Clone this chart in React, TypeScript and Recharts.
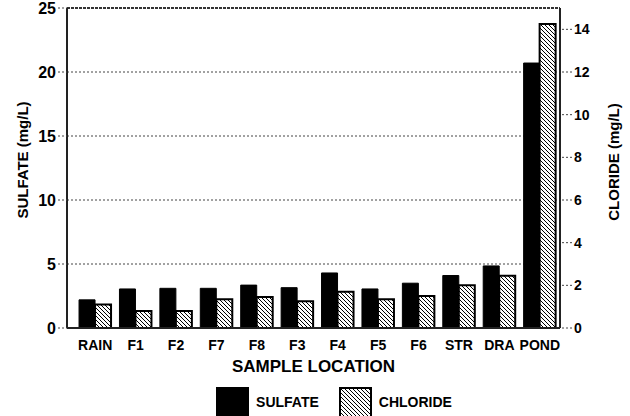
import { Bar, BarChart, CartesianGrid, Legend, ReferenceLine, XAxis, YAxis } from 'recharts';

const locations = ['RAIN', 'F1', 'F2', 'F7', 'F8', 'F3', 'F4', 'F5', 'F6', 'STR', 'DRA', 'POND'];
const sulfate = [2.2, 3.05, 3.1, 3.1, 3.35, 3.15, 4.3, 3.05, 3.5, 4.1, 4.85, 20.7];
const chloride = [1.1, 0.8, 0.8, 1.35, 1.45, 1.25, 1.7, 1.35, 1.5, 2.0, 2.45, 14.25];
const sulfateTicks = [0, 5, 10, 15, 20, 25];
const chlorideTicks = [0, 2, 4, 6, 8, 10, 12, 14];

const data = locations.map((name, i) => ({ name, sulfate: sulfate[i], chloride: chloride[i] }));

const font = '"Liberation Sans", Arial, sans-serif';

function Hatch({ id }: { id: string }) {
  return (
    <pattern id={id} patternUnits="userSpaceOnUse" width={4} height={4}>
      <rect width={4} height={4} fill="#fff" />
      <path d="M-1,-1 L5,5 M-1,3 L1,5 M3,-1 L5,1" stroke="#000" strokeWidth={1} />
    </pattern>
  );
}

function LegendContent() {
  const item = (label: string, hatched: boolean) => (
    <div style={{ display: 'flex', alignItems: 'flex-start', marginRight: 20 }}>
      <svg width={33} height={31} style={{ display: 'block' }}>
        <defs>
          <Hatch id="hatchLegend" />
        </defs>
        <rect
          x={1}
          y={1}
          width={31}
          height={30}
          fill={hatched ? 'url(#hatchLegend)' : '#000'}
          stroke="#000"
          strokeWidth={2}
        />
      </svg>
      <span style={{ marginLeft: 7, marginTop: 7, fontSize: 14, fontWeight: 'bold' }}>{label}</span>
    </div>
  );
  return (
    <div
      style={{
        display: 'flex',
        justifyContent: 'center',
        paddingTop: 19,
        marginLeft: 58,
        fontFamily: font,
        color: '#000',
      }}
    >
      {item('SULFATE', false)}
      {item('CHLORIDE', true)}
    </div>
  );
}

function App() {
  return (
    <div style={{ position: 'absolute', left: 0, top: 0, background: '#fff' }}>
      <BarChart
        width={630}
        height={416}
        data={data}
        margin={{ top: 8, right: 0, left: 0, bottom: 0 }}
        barCategoryGap="10%"
        barGap={0}
        style={{ fontFamily: font }}
      >
        <defs>
          <Hatch id="hatchBar" />
        </defs>
        <CartesianGrid yAxisId="left" vertical={false} stroke="#444" strokeDasharray="2 2" />
        <XAxis
          dataKey="name"
          height={40}
          padding={{ left: 8, right: 0 }}
          tickLine={false}
          axisLine={{ stroke: '#222', strokeWidth: 2 }}
          tick={{ fontSize: 14, fontWeight: 'bold', fill: '#000' }}
          tickMargin={6}
          interval={0}
          label={{
            value: 'SAMPLE LOCATION',
            position: 'insideBottom',
            offset: -4,
            style: { fontSize: 17, fontWeight: 'bold', fill: '#000' },
          }}
        />
        <YAxis
          yAxisId="left"
          width={67}
          domain={[0, 25]}
          ticks={sulfateTicks}
          interval={0}
          tickSize={9}
          tickLine={{ stroke: '#444', strokeDasharray: '2 2' }}
          axisLine={{ stroke: '#222', strokeWidth: 2 }}
          tick={{ fontSize: 16, fontWeight: 'bold', fill: '#000' }}
          label={({ viewBox }: any) => (
            <text
              x={22}
              y={viewBox.y + viewBox.height / 2 - 8}
              transform={`rotate(-90 22 ${viewBox.y + viewBox.height / 2 - 8})`}
              textAnchor="middle"
              dominantBaseline="central"
              fontSize={15}
              fontWeight="bold"
              fill="#000"
            >
              SULFATE (mg/L)
            </text>
          )}
        />
        <YAxis
          yAxisId="right"
          orientation="right"
          width={70}
          domain={[0, 15]}
          ticks={chlorideTicks}
          interval={0}
          tickSize={12}
          tickLine={{ stroke: '#444', strokeDasharray: '2 2' }}
          axisLine={{ stroke: '#222', strokeWidth: 2 }}
          tick={{ fontSize: 14, fontWeight: 'bold', fill: '#000' }}
          label={({ viewBox }: any) => (
            <text
              x={613}
              y={viewBox.y + viewBox.height / 2 - 6}
              transform={`rotate(-90 613 ${viewBox.y + viewBox.height / 2 - 6})`}
              textAnchor="middle"
              dominantBaseline="central"
              fontSize={15}
              fontWeight="bold"
              fill="#000"
            >
              CLORIDE (mg/L)
            </text>
          )}
        />
        <ReferenceLine yAxisId="left" y={25} stroke="#333" strokeWidth={2} strokeDasharray="3 1" />
        <Legend verticalAlign="bottom" height={48} content={() => <LegendContent />} />
        <Bar
          yAxisId="left"
          dataKey="sulfate"
          name="SULFATE"
          fill="#000"
          stroke="#000"
          strokeWidth={1}
          isAnimationActive={false}
        />
        <Bar
          yAxisId="right"
          dataKey="chloride"
          name="CHLORIDE"
          fill="url(#hatchBar)"
          stroke="#000"
          strokeWidth={2}
          isAnimationActive={false}
        />
      </BarChart>
    </div>
  );
}

export default App;
